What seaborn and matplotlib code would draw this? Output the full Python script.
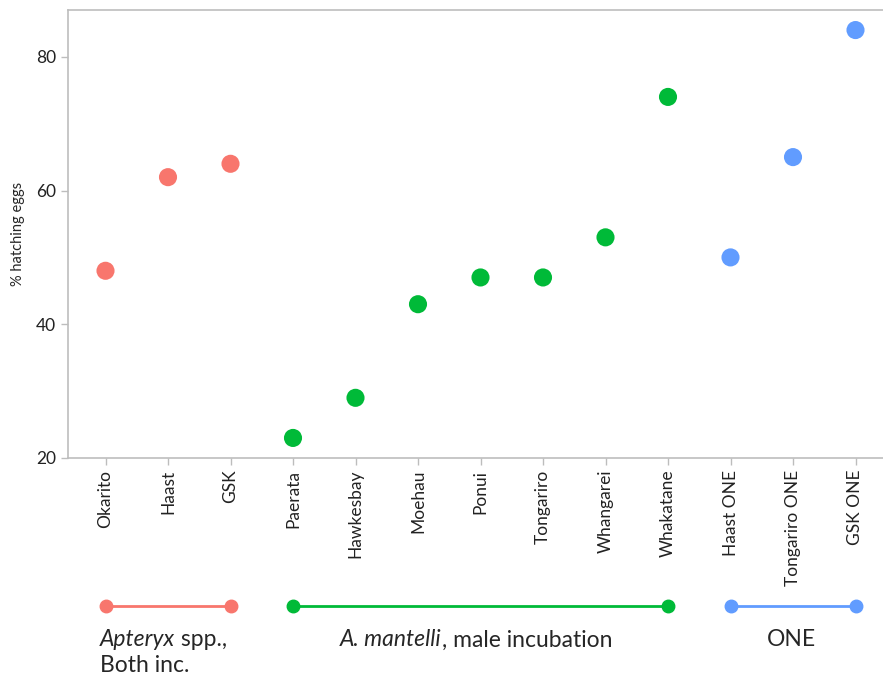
import pandas as pd
import matplotlib
matplotlib.use("Agg")
import matplotlib.pyplot as plt
import matplotlib.transforms as mtransforms
import seaborn as sns

# data
sites = ["Okarito", "Haast", "GSK", "Paerata", "Hawkesbay", "Moehau", "Ponui",
         "Tongariro", "Whangarei", "Whakatane", "Haast ONE", "Tongariro ONE", "GSK ONE"]
hatching = [48, 62, 64, 23, 29, 43, 47, 47, 53, 74, 50, 65, 84]
groups = ["Both"] * 3 + ["Male"] * 7 + ["ONE"] * 3
group_order = ["Both", "Male", "ONE"]
group_colors = ["#F8766D", "#00BA38", "#619CFF"]

df = pd.DataFrame({"site": sites, "hatch": hatching, "group": groups})

sns.set_style("white")
plt.rcParams["font.family"] = ["Lato", "DejaVu Sans"]

fig = plt.figure(figsize=(8.83, 6.8), dpi=100)
ax = fig.add_axes([68 / 883, 1 - 458 / 680, (893 - 68) / 883, (458 - 10) / 680])

sns.scatterplot(data=df, x="site", y="hatch", hue="group", hue_order=group_order,
                palette=group_colors, s=170, edgecolor="none", legend=False, ax=ax)

ax.set_xlim(-0.6, len(sites) - 0.4)
ax.set_ylim(20, 87)
ax.set_yticks([20, 40, 60, 80])
ax.set_xticks(range(len(sites)))
ax.set_xticklabels(sites, rotation=90)
ax.set_xlabel("")
ax.set_ylabel("% hatching eggs", fontsize=10.5, labelpad=8)

for side in ["left", "top", "right", "bottom"]:
    ax.spines[side].set_color("#bdbdbd")
    ax.spines[side].set_linewidth(1.2)
ax.tick_params(axis="both", colors="#bdbdbd", length=5, width=1, labelcolor="#222222",
               labelsize=12.5, direction="out", bottom=True, left=True)

# group brackets below the axis
trans = mtransforms.blended_transform_factory(ax.transData, fig.transFigure)
y_line = 1 - 606 / 680
for g, c in zip(group_order, group_colors):
    idx = [i for i, gg in enumerate(groups) if gg == g]
    x0, x1 = idx[0], idx[-1]
    ax.plot([x0, x1], [y_line, y_line], color=c, lw=2, marker="o", ms=9,
            transform=trans, clip_on=False)


def mixed_text(x_px, y_px, parts, size=16.5, center=False):
    # parts: list of (text, style); laid out left to right
    renderer = fig.canvas.get_renderer()
    items = []
    for s, style in parts:
        t = fig.text(0, 1 - y_px / 680, s, fontsize=size, style=style, va="center")
        items.append((t, t.get_window_extent(renderer).width))
    total = sum(w for _, w in items)
    x = x_px - total / 2 if center else x_px
    for t, w in items:
        t.set_x(x / 883)
        x += w


mixed_text(100, 640, [("Apteryx", "italic"), (" spp.,", "normal")])
mixed_text(100, 665, [("Both inc.", "normal")])
mixed_text(476, 640, [("A. mantelli", "italic"), (", male incubation", "normal")], center=True)
mixed_text(791, 640, [("ONE", "normal")], center=True)

fig.savefig("out.png", dpi=100)
